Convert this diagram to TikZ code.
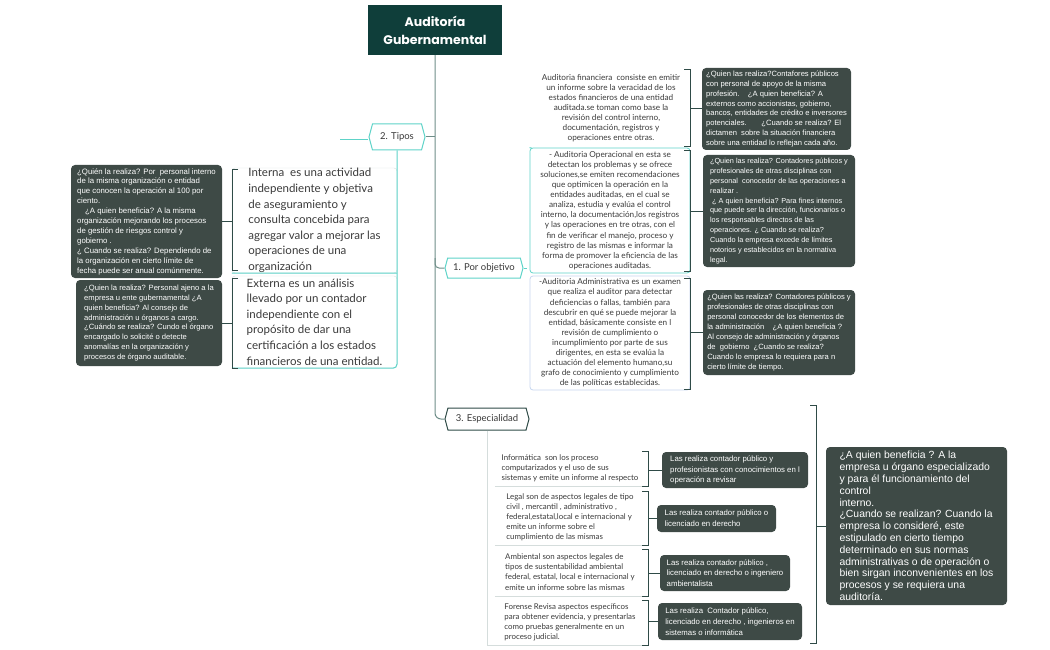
\documentclass[tikz,border=0pt]{standalone}
\usepackage{fontspec}
\setmainfont{Lato}
\newfontfamily\arialf{Liberation Sans}
\newfontfamily\popf{Poppins}
\usetikzlibrary{shapes.symbols}
\definecolor{titlebg}{HTML}{0F3E3A}
\definecolor{darkbg}{HTML}{3E4A46}
\definecolor{tealline}{HTML}{5ED3C8}
\definecolor{brkc}{HTML}{2F4B47}
\definecolor{trunkc}{HTML}{6E8D88}
\definecolor{txtc}{HTML}{3A3A3A}
\definecolor{lightb}{HTML}{D5DDDC}
\definecolor{blueb}{HTML}{C5D5EE}
\begin{document}
\begin{tikzpicture}[x=1pt,y=-1pt,
  dbox/.style={fill=darkbg, rounded corners=4pt, text=white, font=\arialf\fontsize{7.6}{9.9}\selectfont, align=left, inner sep=0pt},
  bigbox/.style={dbox, font=\arialf\fontsize{10.4}{11.8}\selectfont},
  lbox/.style={rounded corners=3pt, text=txtc, font=\fontsize{8.2}{10.1}\selectfont, align=center, inner sep=0pt},
  sbox/.style={lbox, align=left, font=\fontsize{7.9}{10.1}\selectfont},
  bbox/.style={lbox, align=left, font=\fontsize{11.5}{15.6}\selectfont},
  topic/.style={signal, signal to=east and west, signal pointer angle=150, line width=1pt, fill=white, text=txtc, font=\fontsize{9.5}{11}\selectfont, inner sep=2pt},
  brk/.style={draw=brkc, line width=1pt},
  trunkl/.style={draw=trunkc, line width=1pt},
  tl/.style={draw=tealline, line width=1pt}
]
\useasboundingbox (0,0) rectangle (1050,650);

% title
\node[fill=titlebg, text=white, font=\popf\bfseries\fontsize{12.5}{18}\selectfont, align=center, minimum width=134, minimum height=50, inner sep=0pt] (title) at (435,30) {Auditoría\\Gubernamental};

% topics
\coordinate (tleft) at (340,140);
\node[topic, draw=tealline, minimum width=56, minimum height=26] (tipos) at (397,137) {2. Tipos};
\draw[tl] (tleft) -- (tleft -| tipos.west);
\node[topic, draw=tealline, minimum width=78, minimum height=20] (porobj) at (484,268) {1. Por objetivo};
\node[topic, draw=brkc, minimum width=84, minimum height=22] (esp) at (487,419) {3. Especialidad};

% trunk
\coordinate (tr2) at (435,137);
\coordinate (tr1) at (435,258);
\draw[trunkl, rounded corners=6pt] (title.south) |- (esp.west);
\draw[trunkl] (tr2) -- (tipos.east);
\draw[trunkl, rounded corners=4pt] (tr1) |- (porobj.west);

% Tipos children
\node[bbox, draw=lightb, minimum width=165, minimum height=105] (interna) at (314.5,220.5) {Interna\ \ es una actividad\\independiente y objetiva\\de aseguramiento y\\consulta concebida para\\agregar valor a mejorar las\\operaciones de una\\organización};
\node[bbox, draw=lightb, minimum width=165, minimum height=92] (externa) at (314.5,322) {Externa es un análisis\\llevado por un contador\\independiente con el\\propósito de dar una\\certificación a los estados\\financieros de una entidad.};
\coordinate (tv1) at (397,273);
\draw[tl, rounded corners=4pt] (tipos.south) |- (externa.south west);
\draw[tl] (interna.south west) -- (tv1);

\node[dbox, font=\arialf\fontsize{7.8}{9.9}\selectfont, minimum width=151, minimum height=113] (dint) at (146.5,221.5) {¿Quién la realiza? Por\ \ personal interno\\de la misma organización o entidad\\que conocen la operación al 100 por\\ciento.\\\hspace*{8pt}¿A quien beneficia? A la misma\\organización mejorando los procesos\\de gestión de riesgos control y\\gobierno .\\¿ Cuando se realiza? Dependiendo de\\la organización en cierto límite de\\fecha puede ser anual comúnmente.};
\node[dbox, minimum width=146, minimum height=86] (dext) at (149,323) {¿Quien la realiza? Personal ajeno a la\\empresa u ente gubernamental ¿A\\quien beneficia? Al consejo de\\administración u órganos a cargo.\\¿Cuándo se realiza? Cundo el órgano\\encargado lo solicité o detecte\\anomalías en la organización y\\procesos de órgano auditable.};

\draw[brk] (238,170) -| (232,270) -- (238,270);
\coordinate (bi) at (232,221.5);
\draw[brk] (bi) -- (dint.east);
\draw[brk] (238,278) -| (232,368) -- (238,368);
\coordinate (be) at (232,323);
\draw[brk] (be) -- (dext.east);

% Por objetivo children
\node[lbox, minimum width=158, minimum height=80] (fin) at (611,108) {Auditoria financiera\ \ consiste en emitir\\un informe sobre la veracidad de los\\estados financieros de una entidad\\auditada.se toman como base la\\revisión del control interno,\\documentación, registros y\\operaciones entre otras.};
\node[lbox, draw=tealline, line width=0.8pt, minimum width=160, minimum height=125] (oper) at (610,210.5) {- Auditoria Operacional en esta se\\detectan los problemas y se ofrece\\soluciones,se emiten recomendaciones\\que optimicen la operación en la\\entidades auditadas, en el cual se\\analiza, estudia y evalúa el control\\interno, la documentación,los registros\\y las operaciones en tre otras, con el\\fin de verificar el manejo, proceso y\\registro de las mismas e informar la\\forma de promover la eficiencia de las\\operaciones auditadas.};
\node[lbox, draw=blueb, line width=0.8pt, minimum width=160, minimum height=114] (adm) at (610,333) {-Auditoria Administrativa es un examen\\que realiza el auditor para detectar\\deficiencias o fallas, también para\\descubrir en qué se puede mejorar la\\entidad, básicamente consiste en l\\revisión de cumplimiento o\\incumplimiento por parte de sus\\dirigentes, en esta se evalúa la\\actuación del elemento humano,su\\grafo de conocimiento y cumplimiento\\de las políticas establecidas.};
\coordinate (pv) at (527,268);
\draw[tl] (porobj.east) -- (pv);
\draw[tl, rounded corners=4pt] (fin.south west) -- (oper.north west);

\node[dbox, minimum width=149, minimum height=82] (dfin) at (776.5,109) {¿Quien las realiza?Contafores públicos\\con personal de apoyo de la misma\\profesión.\ \ \ \ ¿A quien beneficia? A\\externos como accionistas, gobierno,\\bancos, entidades de crédito e inversores\\potenciales.\ \ \ \ \ \ \ ¿Cuando se realiza? El\\dictamen\ \ sobre la situación financiera\\sobre una entidad lo reflejan cada año.};
\node[dbox, font=\arialf\fontsize{7.3}{9.9}\selectfont, minimum width=152, minimum height=112] (doper) at (779,211) {¿Quien las realiza? Contadores públicos y\\profesionales de otras disciplinas con\\personal\ \ conocedor de las operaciones a\\realizar .\\\ ¿ A quien beneficia? Para fines internos\\que puede ser la dirección, funcionarios o\\los responsables directos de las\\operaciones. ¿ Cuando se realiza?\\Cuando la empresa excede de límites\\notorios y establecidos en la normativa\\legal.};
\node[dbox, minimum width=152, minimum height=85] (dadm) at (779,332.5) {¿Quien las realiza? Contadores públicos y\\profesionales de otras disciplinas con\\personal conocedor de los elementos de\\la administración\ \ \ \ ¿A quien beneficia ?\\Al consejo de administración y órganos\\de\ \ gobierno\ \ ¿Cuando se realiza?\\Cuando lo empresa lo requiera para n\\cierto límite de tiempo.};

\draw[brk] (684,70) -| (690,147) -- (684,147);
\coordinate (bf) at (690,109);
\draw[brk] (bf) -- (dfin.west);
\draw[brk] (684,151) -| (690,271) -- (684,271);
\coordinate (bo) at (690,211);
\draw[brk] (bo) -- (doper.west);
\draw[brk] (684,278) -| (690,389) -- (684,389);
\coordinate (ba) at (690,332.5);
\draw[brk] (ba) -- (dadm.west);

% Especialidad children
\node[sbox, minimum width=150, minimum height=36] (inf) at (570,468) {Informática\ \ son los proceso\\computarizados y el uso de sus\\sistemas y emite un informe al respecto};
\node[sbox, minimum width=150, minimum height=55] (leg) at (570,517.5) {Legal son de aspectos legales de tipo\\civil , mercantil , administrativo ,\\federal,estatal,local e internacional y\\emite un informe sobre el\\cumplimiento de las mismas};
\node[sbox, minimum width=150, minimum height=48] (amb) at (570,572) {Ambiental son aspectos legales de\\tipos de sustentabilidad ambiental\\federal, estatal, local e internacional y\\emite un informe sobre las mismas};
\node[sbox, minimum width=150, minimum height=46] (for) at (570,622) {Forense Revisa aspectos específicos\\para obtener evidencia, y presentarlas\\como pruebas generalmente en un\\proceso judicial.};
\draw[draw=lightb, line width=0.8pt] (esp.south) |- (for.south west);
\draw[draw=lightb, line width=0.8pt] (inf.south west) -- (inf.south east);
\draw[draw=lightb, line width=0.8pt] (leg.south west) -- (leg.south east);
\draw[draw=lightb, line width=0.8pt] (amb.south west) -- (amb.south east);
\draw[draw=lightb, line width=0.8pt] (for.south west) -- (for.south east);

\node[dbox, font=\arialf\fontsize{7.8}{10.8}\selectfont, minimum width=146, minimum height=36] (dinf) at (735,470) {Las realiza contador público y\\profesionistas con conocimientos en l\\operación a revisar};
\node[dbox, font=\arialf\fontsize{7.8}{10.8}\selectfont, minimum width=119, minimum height=27] (dleg) at (716.5,518.5) {Las realiza contador público o\\licenciado en derecho};
\node[dbox, font=\arialf\fontsize{7.8}{10.8}\selectfont, minimum width=130, minimum height=36] (damb) at (725,573) {Las realiza contador público ,\\licenciado en derecho o ingeniero\\ambientalista};
\node[dbox, font=\arialf\fontsize{7.8}{10.8}\selectfont, minimum width=144, minimum height=37] (dfor) at (730,621.5) {Las realiza\ \ Contador público,\\licenciado en derecho , ingenieros en\\sistemas o informática};

\draw[brk] (642,451) -| (648,486) -- (642,486);
\coordinate (bb1) at (648,470);
\draw[brk] (bb1) -- (dinf.west);
\draw[brk] (642,491) -| (648,545) -- (642,545);
\coordinate (bb2) at (648,518.5);
\draw[brk] (bb2) -- (dleg.west);
\draw[brk] (642,549) -| (648,596) -- (642,596);
\coordinate (bb3) at (648,573);
\draw[brk] (bb3) -- (damb.west);
\draw[brk] (642,600) -| (648,645) -- (642,645);
\coordinate (bb4) at (648,621.5);
\draw[brk] (bb4) -- (dfor.west);

\node[bigbox, minimum width=181, minimum height=158] (big) at (916.5,526) {¿A quien beneficia ? A la\\empresa u órgano especializado\\y para él funcionamiento del\\control\\interno.\\¿Cuando se realizan? Cuando la\\empresa lo consideré, este\\estipulado en cierto tiempo\\determinado en sus normas\\administrativas o de operación o\\bien sirgan inconvenientes en los\\procesos y se requiera una\\auditoría.};
\draw[brk] (810,405) -| (816,643) -- (810,643);
\coordinate (bbig) at (816,526);
\draw[brk] (bbig) -- (big.west);
\end{tikzpicture}
\end{document}
